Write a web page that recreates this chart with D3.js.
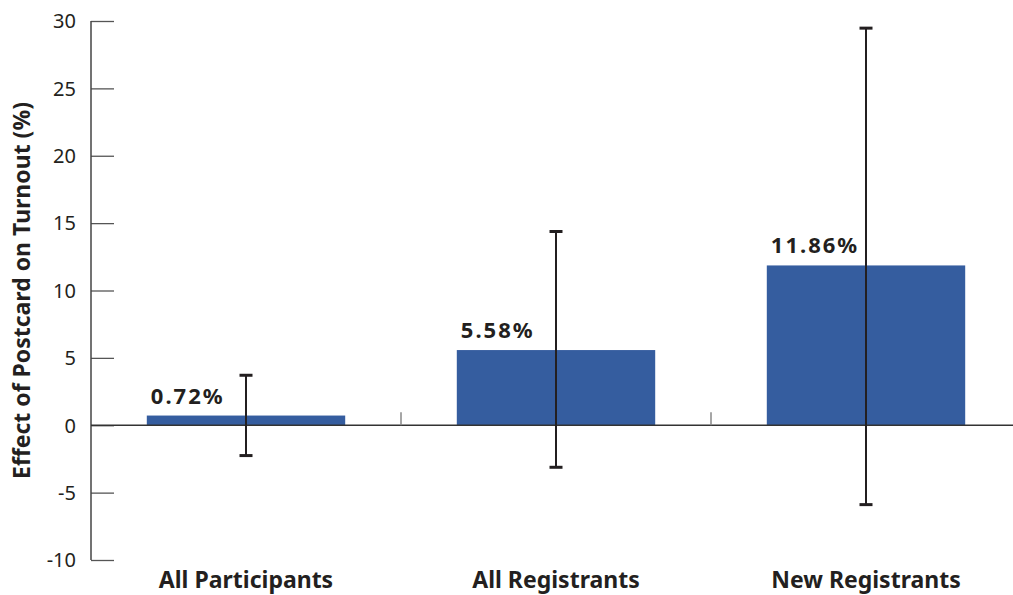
<!DOCTYPE html>
<html>
<head>
<meta charset="utf-8">
<script src="https://cdn.jsdelivr.net/npm/d3@7"></script>
<style>
  body { margin: 0; background: #fff; }
  text { font-family: "Noto Sans", sans-serif; fill: #231f20; }
</style>
</head>
<body>
<div id="chart"></div>
<script>
const categories = ["All Participants", "All Registrants", "New Registrants"];
const effects = [0.72, 5.58, 11.86];
const ciLow = [-2.25, -3.12, -5.89];
const ciHigh = [3.71, 14.38, 29.47];
const yTicks = [-10, -5, 0, 5, 10, 15, 20, 25, 30];

const width = 1013, height = 595;
const margin = {top: 21, right: 0, bottom: 35, left: 91};

const svg = d3.select("#chart")
  .append("svg")
  .attr("width", width)
  .attr("height", height);

const x = d3.scaleBand()
  .domain(categories)
  .range([margin.left, margin.left + 930])
  .paddingInner(0.36)
  .paddingOuter(0.18);

const y = d3.scaleLinear()
  .domain([-10, 30])
  .range([height - margin.bottom, margin.top]);

// y axis with inner ticks
const yAxis = svg.append("g")
  .attr("transform", `translate(${margin.left},0)`)
  .call(d3.axisRight(y).tickValues(yTicks).tickSize(23).tickFormat(d => d));
yAxis.select(".domain").remove();
yAxis.selectAll(".tick line").attr("stroke", "#555").attr("stroke-width", 1.3);
yAxis.selectAll(".tick text")
  .attr("x", -15)
  .attr("text-anchor", "end")
  .attr("dy", "0.34em")
  .style("font-size", "20px")
  .style("font-family", "'Noto Sans', sans-serif")
  .attr("fill", "#231f20");

svg.append("line")
  .attr("x1", margin.left).attr("x2", margin.left)
  .attr("y1", y(30)).attr("y2", y(-10))
  .attr("stroke", "#444").attr("stroke-width", 1.5);

// bars
svg.selectAll("rect.bar")
  .data(categories)
  .enter()
  .append("rect")
  .attr("class", "bar")
  .attr("x", d => x(d))
  .attr("width", x.bandwidth())
  .attr("y", (d, i) => y(effects[i]))
  .attr("height", (d, i) => y(0) - y(effects[i]))
  .attr("fill", "#355d9f");

// zero line
svg.append("line")
  .attr("x1", margin.left).attr("x2", width)
  .attr("y1", y(0)).attr("y2", y(0))
  .attr("stroke", "#333").attr("stroke-width", 1.5);

// category separators
const step = x.step();
svg.selectAll("line.sep")
  .data(categories.slice(1))
  .enter()
  .append("line")
  .attr("class", "sep")
  .attr("x1", d => x(d) - step * 0.18)
  .attr("x2", d => x(d) - step * 0.18)
  .attr("y1", y(0) - 13)
  .attr("y2", y(0))
  .attr("stroke", "#888").attr("stroke-width", 1.5);

// error bars
const cx = d => x(d) + x.bandwidth() / 2;
const err = svg.selectAll("g.err")
  .data(categories)
  .enter()
  .append("g")
  .attr("class", "err");
err.append("line")
  .attr("x1", cx).attr("x2", cx)
  .attr("y1", (d, i) => y(ciHigh[i]))
  .attr("y2", (d, i) => y(ciLow[i]))
  .attr("stroke", "#231f20").attr("stroke-width", 2);
err.append("line")
  .attr("x1", d => cx(d) - 6.5).attr("x2", d => cx(d) + 6.5)
  .attr("y1", (d, i) => y(ciHigh[i]))
  .attr("y2", (d, i) => y(ciHigh[i]))
  .attr("stroke", "#231f20").attr("stroke-width", 3);
err.append("line")
  .attr("x1", d => cx(d) - 6.5).attr("x2", d => cx(d) + 6.5)
  .attr("y1", (d, i) => y(ciLow[i]))
  .attr("y2", (d, i) => y(ciLow[i]))
  .attr("stroke", "#231f20").attr("stroke-width", 3);

// value labels
svg.selectAll("text.val")
  .data(categories)
  .enter()
  .append("text")
  .attr("class", "val")
  .attr("x", d => x(d) + 4)
  .attr("y", (d, i) => y(effects[i]) - 12)
  .text((d, i) => effects[i].toFixed(2) + "%")
  .style("font-size", "22px")
  .style("font-weight", "bold")
  .style("letter-spacing", "2px");

// category labels
svg.selectAll("text.cat")
  .data(categories)
  .enter()
  .append("text")
  .attr("class", "cat")
  .attr("x", cx)
  .attr("y", 588)
  .attr("text-anchor", "middle")
  .text(d => d)
  .style("font-size", "23px")
  .style("font-weight", "bold");

// y title
svg.append("text")
  .attr("transform", `translate(30,${(y(30) + y(-10)) / 2}) rotate(-90)`)
  .attr("text-anchor", "middle")
  .text("Effect of Postcard on Turnout (%)")
  .style("font-size", "23px")
  .style("font-weight", "bold");
</script>
</body>
</html>
